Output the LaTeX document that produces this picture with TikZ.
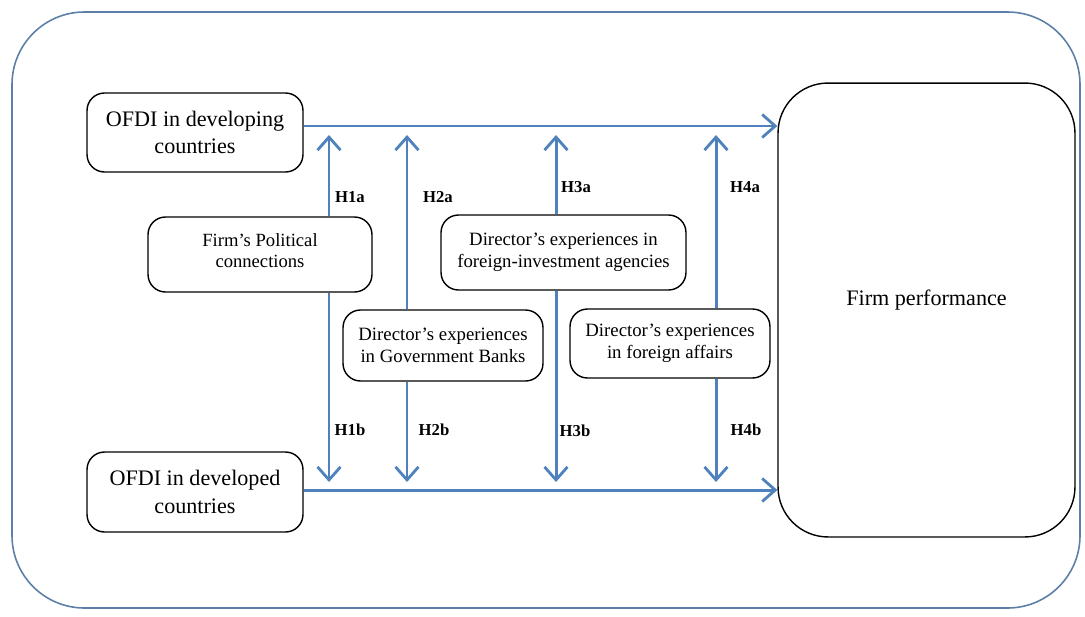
\documentclass[tikz,border=0pt]{standalone}
\usepackage{fontspec}
\setmainfont{Liberation Serif}
\usetikzlibrary{arrows.meta}

\definecolor{linkblue}{RGB}{79,129,189}
\definecolor{frameblue}{RGB}{91,127,166}

\begin{document}
\begin{tikzpicture}[x=0.02cm,y=-0.02cm,
  >={Straight Barb[length=2.6mm,width=4.6mm,line width=1.6pt]},
  box/.style={draw,line width=0.8pt,rounded corners=0.35cm,align=center,inner sep=2pt},
  link/.style={->,draw=linkblue,line width=1.7pt},
  hyp/.style={font=\bfseries\fontsize{9.5}{11}\selectfont}]
  \useasboundingbox (0,0) rectangle (1085,616);
  \draw[frameblue,line width=0.9pt,rounded corners=1.45cm] (12,12) rectangle (1080,608);
  % boxes
  \node[box,minimum width=4.32cm,minimum height=1.58cm,font=\fontsize{12.6}{15.5}\selectfont] (dev1) at (195,132.5) {OFDI in developing\\countries};
  \node[box,minimum width=4.32cm,minimum height=1.6cm,font=\fontsize{12.6}{15.5}\selectfont] (dev2) at (195,492) {OFDI in developed\\countries};
  \node[box,minimum width=5.94cm,minimum height=9.08cm,rounded corners=1cm,font=\fontsize{12.6}{15.5}\selectfont] (perf) at (926.5,310) {Firm performance\\[-1pt]};
  \node[box,minimum width=4.48cm,minimum height=1.5cm,font=\fontsize{10.6}{12.5}\selectfont] (pol) at (260,254.5) {Firm’s Political\\connections\\[-8pt]};
  \node[box,minimum width=4.0cm,minimum height=1.42cm,font=\fontsize{10.7}{12.8}\selectfont] (bank) at (443,345.5) {Director’s experiences\\in Government Banks};
  \node[box,minimum width=4.9cm,minimum height=1.5cm,font=\fontsize{10.7}{12.8}\selectfont] (fia) at (563.5,252.5) {Director’s experiences in\\foreign-investment agencies};
  \node[box,minimum width=4.0cm,minimum height=1.38cm,font=\fontsize{10.7}{12.8}\selectfont] (aff) at (670,343.5) {Director’s experiences\\in foreign affairs};
  % arrow ends on the two main links
  \coordinate (t1) at (329,135);
  \coordinate (t2) at (407,135);
  \coordinate (t3) at (556,135);
  \coordinate (t4) at (716,135);
  \coordinate (b1) at (329,482);
  \coordinate (b2) at (407,482);
  \coordinate (b3) at (556,482);
  \coordinate (b4) at (716,482);
  \draw[link] (dev1.east |- 0,126) -- (perf.west |- 0,126);
  \draw[link] (dev2.east |- 0,490) -- (perf.west |- 0,490);
  \draw[link] (t1 |- pol.north) -- (t1);
  \draw[link] (t1 |- pol.south) -- (b1);
  \draw[link] (t2 |- bank.north) -- (t2);
  \draw[link] (t2 |- bank.south) -- (b2);
  \draw[link] (t3 |- fia.north) -- (t3);
  \draw[link] (t3 |- fia.south) -- (b3);
  \draw[link] (t4 |- aff.north) -- (t4);
  \draw[link] (t4 |- aff.south) -- (b4);
  % labels
  \node[hyp] (h1a) at (350,197) {H1a};
  \node[hyp] (h2a) at (438,197) {H2a};
  \node[hyp] (h3a) at (576,187) {H3a};
  \node[hyp] (h4a) at (745,187) {H4a};
  \node[hyp] (h1b) at (350,430) {H1b};
  \node[hyp] (h2b) at (434,430) {H2b};
  \node[hyp] (h3b) at (575,431) {H3b};
  \node[hyp] (h4b) at (746,430) {H4b};
\end{tikzpicture}
\end{document}
